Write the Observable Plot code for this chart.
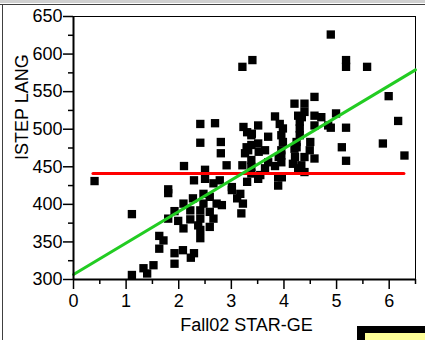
<!DOCTYPE html>
<html>
<head>
<meta charset="utf-8">
<script src="https://cdn.jsdelivr.net/npm/d3@7"></script>
<script src="https://cdn.jsdelivr.net/npm/@observablehq/plot@0.6"></script>
<style>
  html, body { margin: 0; padding: 0; background: #fff; }
  #wrap { position: relative; width: 425px; height: 340px; overflow: hidden; font-family: "Liberation Sans", Arial, sans-serif; }
  #wrap svg { position: absolute; left: 0; top: 0; }
  .deco { position: absolute; }
</style>
</head>
<body>
<div id="wrap"></div>
<script>
// Scatter data: Fall02 STAR-GE (x) vs ISTEP LANG (y)
const starGE = [
  0.40,1.80,1.80,1.11,1.92,1.80,1.99,1.63,1.71,1.63,1.92,1.92,1.52,1.33,1.40,1.11,2.08,2.23,2.29,
  2.10,2.29,2.50,2.91,3.21,3.30,2.66,2.78,3.01,3.17,2.47,2.59,2.27,2.09,2.47,2.72,2.82,3.22,2.22,2.41,2.59,3.19,2.22,2.41,2.66,2.37,2.59,2.09,2.41,2.41,2.50,3.01,3.11,3.55,3.96,
  2.41,2.69,2.41,2.80,2.80,3.23,3.30,3.29,3.26,
  4.58,4.20,4.39,4.39,4.58,4.71,3.83,4.27,4.30,3.92,3.98,3.51,3.70,4.30,4.30,4.58,4.84,3.95,3.98,4.24,4.50,3.38,3.38,3.51,3.64,3.32,3.95,4.20,4.49,3.95,4.39,4.58,3.38,3.70,3.95,4.17,4.33,3.38,3.38,3.64,3.83,3.89,3.89,4.27,4.39,3.51,3.39,3.52,3.90,4.24,4.21,4.34,
  4.89,5.18,5.18,5.58,5.99,4.99,6.17,4.89,5.18,5.10,5.88,5.18,6.29,
  3.40,3.21
];
const istepLang = [
  431,420,415,387,391,381,378,358,352,341,335,321,319,315,308,306,339,329,335,
  451,432,434,452,452,430,428,432,419,414,414,410,408,401,401,401,399,401,392,392,390,388,380,381,381,372,370,368,366,355,446,423,408,439,436,
  507,508,482,483,468,503,496,476,468,
  543,534,534,523,518,516,517,518,510,507,501,505,490,501,492,505,505,492,483,483,483,492,479,481,472,472,472,474,472,465,463,461,459,456,456,454,452,450,441,448,451,436,425,448,443,434,494,470,463,476,463,516,
  626,592,583,583,544,521,511,502,502,476,481,458,465,
  592,583
];

// Fit line (green) and mean line (red)
const fitX = [0, 6.5];
const fitY = [306.7, 579];
const meanX = [0.37, 6.28];
const meanY = [441, 441];

const xTicks = [0, 1, 2, 3, 4, 5, 6];
const xMinor = [0.5, 1.5, 2.5, 3.5, 4.5, 5.5, 6.5];
const yTicks = [300, 350, 400, 450, 500, 550, 600, 650];
const yMinor = [325, 375, 425, 475, 525, 575, 625];
const xLabel = "Fall02 STAR-GE";
const yLabel = "ISTEP LANG";

const points = starGE.map((x, i) => ({x, y: istepLang[i]}));
const fit = fitX.map((x, i) => ({x, y: fitY[i]}));
const mean = meanX.map((x, i) => ({x, y: meanY[i]}));

const FS = 18;
const chart = Plot.plot({
  width: 425,
  height: 340,
  marginLeft: 73,
  marginRight: 10,
  marginTop: 16,
  marginBottom: 61,
  style: {fontFamily: "'Liberation Sans', Arial, sans-serif", fontSize: FS + "px", color: "black", background: "transparent"},
  x: {domain: [0, 6.5]},
  y: {domain: [300, 650]},
  marks: [
    Plot.frame({stroke: "black", strokeWidth: 1}),
    Plot.dot(points, {x: "x", y: "y", symbol: "square", r: 4.7, fill: "black", stroke: "none"}),
    Plot.line(mean, {x: "x", y: "y", stroke: "#ff0000", strokeWidth: 3}),
    Plot.line(fit, {x: "x", y: "y", stroke: "#22cc22", strokeWidth: 3}),
    Plot.ruleX([0], {stroke: "black", strokeWidth: 2}),
    Plot.ruleY([300], {stroke: "black", strokeWidth: 2}),
    Plot.axisX(xTicks, {tickSize: 10, tickPadding: 5, stroke: "black", strokeWidth: 1.5, label: null, fontSize: FS}),
    Plot.axisX(xMinor, {tickSize: 5, tickFormat: () => "", stroke: "black", strokeWidth: 1.5, label: null}),
    Plot.axisY(yTicks, {tickSize: 10, tickPadding: 1, stroke: "black", strokeWidth: 1.5, label: null, fontSize: FS}),
    Plot.axisY(yMinor, {tickSize: 5, tickFormat: () => "", stroke: "black", strokeWidth: 1.5, label: null}),
    Plot.text([xLabel], {frameAnchor: "bottom", dx: 2, dy: 51, fontSize: FS, fill: "black"}),
    Plot.text([yLabel], {frameAnchor: "left", rotate: -90, dx: -51, dy: 12, fontSize: FS, fill: "black"})
  ]
});

const wrap = document.getElementById("wrap");
wrap.appendChild(chart);

function deco(l, t, w, h, bg) {
  const d = document.createElement("div");
  d.className = "deco";
  Object.assign(d.style, {left: l + "px", top: t + "px", width: w + "px", height: h + "px", background: bg});
  wrap.appendChild(d);
}
deco(0, 0, 425, 3, "#d0d0d0");
deco(0, 4, 425, 1, "#404040");
deco(2, 4, 1, 336, "#404040");
deco(357, 326, 68, 14, "#000000");
deco(365, 333, 60, 7, "#ffff99");
</script>
</body>
</html>
